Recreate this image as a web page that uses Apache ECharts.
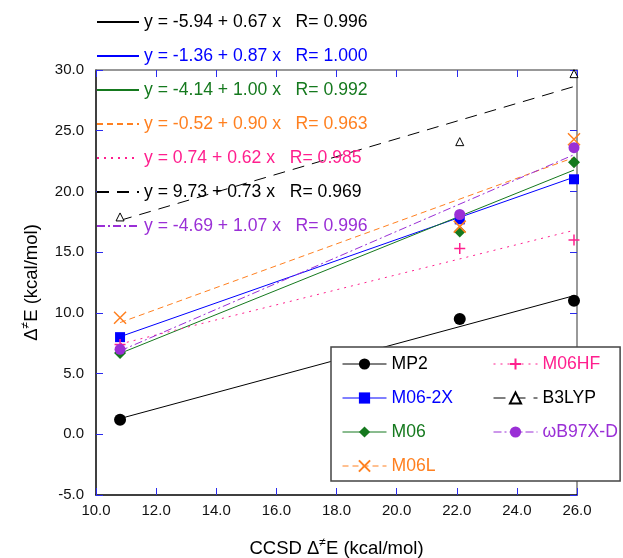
<!DOCTYPE html>
<html>
<head>
    <meta charset="utf-8">
    <title>CCSD vs DFT barriers</title>
    <script src="https://cdn.jsdelivr.net/npm/echarts@6/dist/echarts.min.js"></script>
    <style>
        html, body { margin: 0; padding: 0; background: #fff; }
        #main { width: 623px; height: 558px; }
    </style>
</head>
<body>
<div id="main"></div>
<script type="text/javascript">
    // CCSD reference barriers (x)
    var xVals = [10.8, 22.1, 25.9];
    var methods = ['MP2', 'M06-2X', 'M06', 'M06L', 'M06HF', 'B3LYP', 'ωB97X-D'];
    // method barriers (y)
    var mp2 = [1.2, 9.5, 11.0];
    var m062x = [8.0, 17.7, 21.0];
    var m06 = [6.7, 16.7, 22.4];
    var m06l = [9.6, 17.1, 24.3];
    var m06hf = [7.4, 15.3, 16.0];
    var b3lyp = [17.9, 24.1, 29.7];
    var wb97xd = [7.0, 18.1, 23.6];
    // fitted lines as printed on the chart
    var intercepts = [-5.94, -1.36, -4.14, -0.52, 0.74, 9.73, -4.69];
    var slopes = [0.67, 0.87, 1.00, 0.90, 0.62, 0.73, 1.07];
    var rValues = ['0.996', '1.000', '0.992', '0.963', '0.985', '0.969', '0.996'];
    var yTicks = [-5, 0, 5, 10, 15, 20, 25, 30];
    var xTicks = [10, 12, 14, 16, 18, 20, 22, 24, 26];

    var yData = [mp2, m062x, m06, m06l, m06hf, b3lyp, wb97xd];
    var colors = ['#000000', '#0000ff', '#15791e', '#ff8020', '#ff1f8e', '#000000', '#9a2fd6'];
    var dashes = ['solid', 'solid', 'solid', [6, 4], [2, 5], [12, 8], [8, 3, 2, 3]];
    var symbols = ['circle', 'rect', 'diamond', 'path://M0 0L10 10M10 0L0 10',
        'path://M5 0L5 10M0 5L10 5', 'triangle', 'circle'];
    var symSizes = [12, 10, 12, 12, 11, 8, 11];
    var font = 'Liberation Sans, Arial, sans-serif';

    function eqText(i) {
        var a = intercepts[i].toFixed(2);
        return 'y = ' + a + ' + ' + slopes[i].toFixed(2) + ' x   R= ' + rValues[i];
    }

    var series = [];
    // fit lines (named by equation, for the top legend)
    for (var i = 0; i < methods.length; i++) {
        var x0 = xVals[0], x1 = xVals[xVals.length - 1];
        series.push({
            name: eqText(i),
            type: 'line',
            symbol: 'circle',
            showSymbol: false,
            silent: true,
            z: 2,
            data: [[x0, intercepts[i] + slopes[i] * x0], [x1, intercepts[i] + slopes[i] * x1]],
            lineStyle: {color: colors[i], width: 1, type: dashes[i]},
            itemStyle: {color: colors[i]}
        });
    }
    // data points
    for (var i = 0; i < methods.length; i++) {
        var pts = xVals.map(function (x, k) { return [x, yData[i][k]]; });
        var st = {color: colors[i]};
        if (i === 3 || i === 4) { st = {color: colors[i], borderColor: colors[i], borderWidth: 1.5}; }
        if (i === 5) { st = {color: '#ffffff', borderColor: '#000000', borderWidth: 1}; }
        series.push({
            name: methods[i],
            type: 'line',
            symbol: symbols[i],
            symbolSize: symSizes[i],
            showAllSymbol: true,
            z: 3,
            data: pts,
            lineStyle: {width: 0, color: colors[i]},
            itemStyle: st
        });
    }

    function methodLegendItem(i) {
        return {
            name: methods[i],
            textStyle: {color: colors[i]},
            lineStyle: {color: colors[i], width: 1, type: dashes[i], opacity: 1}
        };
    }

    var nameRich = {
        n: {fontSize: 18.5, color: '#000', fontFamily: font, lineHeight: 24},
        s: {fontSize: 12, color: '#000', fontFamily: font, verticalAlign: 'top', lineHeight: 13}
    };

    var option = {
        animation: false,
        backgroundColor: '#ffffff',
        textStyle: {fontFamily: font},
        grid: {left: 96, right: 46, top: 70, bottom: 63, outerBoundsMode: 'none', containLabel: false},
        legend: [
            {
                orient: 'vertical',
                left: 96,
                top: 13,
                padding: 0,
                itemWidth: 42,
                itemHeight: 16,
                itemGap: 16,
                selectedMode: false,
                itemStyle: {opacity: 0},
                textStyle: {fontSize: 17.6, fontFamily: font},
                data: methods.map(function (m, i) {
                    return {name: eqText(i), textStyle: {color: colors[i]}};
                })
            },
            {
                orient: 'vertical',
                left: 331,
                top: 347,
                padding: [8, 167, 6, 11],
                itemWidth: 44,
                itemHeight: 14,
                itemGap: 16,
                selectedMode: false,
                backgroundColor: '#ffffff',
                borderColor: '#444444',
                borderWidth: 1.5,
                textStyle: {fontSize: 17.6, fontFamily: font},
                data: [0, 1, 2, 3].map(methodLegendItem)
            },
            {
                orient: 'vertical',
                left: 482,
                top: 347,
                padding: [8, 0, 6, 11],
                itemWidth: 44,
                itemHeight: 14,
                itemGap: 16,
                selectedMode: false,
                textStyle: {fontSize: 17.6, fontFamily: font},
                data: [4, 5, 6].map(methodLegendItem)
            }
        ],
        xAxis: [
            {
                type: 'value',
                min: xTicks[0],
                max: xTicks[xTicks.length - 1],
                interval: 2,
                name: '{n|CCSD Δ}{s|≠}{n|E (kcal/mol)}',
                nameLocation: 'middle',
                nameGap: 42,
                nameTextStyle: {fontSize: 18.5, color: '#000', fontFamily: font, rich: nameRich},
                axisLine: {onZero: false, lineStyle: {color: '#000', width: 1.5}},
                axisTick: {inside: true, length: 7, lineStyle: {color: '#2a2aee'}},
                axisLabel: {
                    fontSize: 15, color: '#111', margin: 8, fontFamily: font,
                    formatter: function (v) { return v.toFixed(1); }
                },
                splitLine: {show: false}
            },
            {
                type: 'value',
                position: 'top',
                min: xTicks[0],
                max: xTicks[xTicks.length - 1],
                interval: 2,
                axisLine: {onZero: false, lineStyle: {color: '#777', width: 1.5}},
                axisTick: {inside: true, length: 7, lineStyle: {color: '#2a2aee'}},
                axisLabel: {show: false},
                splitLine: {show: false}
            }
        ],
        yAxis: [
            {
                type: 'value',
                min: yTicks[0],
                max: yTicks[yTicks.length - 1],
                interval: 5,
                name: '{n|Δ}{s|≠}{n|E (kcal/mol)}',
                nameLocation: 'middle',
                nameGap: 52,
                nameTextStyle: {fontSize: 18.5, color: '#000', fontFamily: font, rich: nameRich},
                axisLine: {onZero: false, lineStyle: {color: '#000', width: 1.5}},
                axisTick: {inside: true, length: 7, lineStyle: {color: '#2a2aee'}},
                axisLabel: {
                    fontSize: 15, color: '#111', margin: 12, fontFamily: font,
                    formatter: function (v) { return v.toFixed(1); }
                },
                splitLine: {show: false}
            },
            {
                type: 'value',
                position: 'right',
                min: yTicks[0],
                max: yTicks[yTicks.length - 1],
                interval: 5,
                axisLine: {onZero: false, lineStyle: {color: '#777', width: 1.5}},
                axisTick: {inside: true, length: 7, lineStyle: {color: '#2a2aee'}},
                axisLabel: {show: false},
                splitLine: {show: false}
            }
        ],
        series: series
    };

    var myChart = echarts.init(document.getElementById('main'), null, {renderer: 'canvas'});
    myChart.setOption(option);
</script>
</body>
</html>
